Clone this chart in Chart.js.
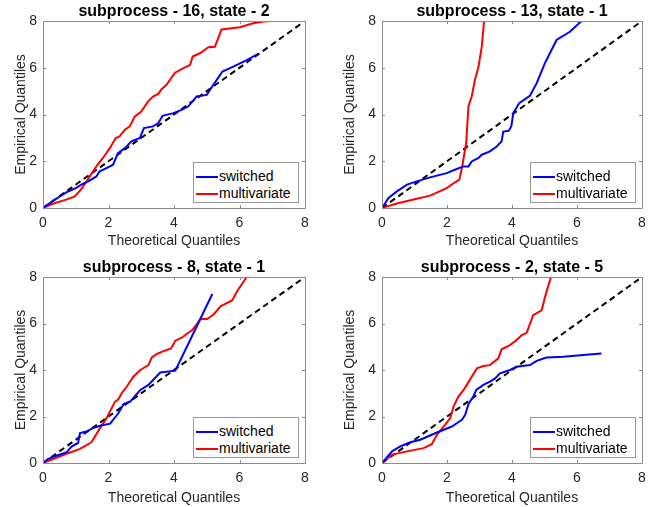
<!DOCTYPE html>
<html><head><meta charset="utf-8">
<script src="https://cdn.jsdelivr.net/npm/chart.js@4.4.1/dist/chart.umd.min.js"></script>
<style>
html,body{margin:0;padding:0;background:#fff;}
#wrap{position:relative;width:658px;height:507px;overflow:hidden;background:#fff;}
canvas{position:absolute;}
.lg{position:absolute;background:#fff;border:1px solid #9a9a9a;box-sizing:border-box;font-family:"Liberation Sans",Arial,sans-serif;font-size:14px;color:#000;}
.lg .sw{position:absolute;left:2px;width:22px;height:2px;}
.lg .tx{position:absolute;left:25px;line-height:16px;white-space:nowrap;}
</style></head><body>
<div id="wrap">
<canvas id="c1" width="329" height="250" style="left:0;top:0"></canvas>
<canvas id="c2" width="329" height="250" style="left:329px;top:0"></canvas>
<canvas id="c3" width="329" height="251" style="left:0;top:256px"></canvas>
<canvas id="c4" width="329" height="251" style="left:329px;top:256px"></canvas>
</div>
<script>
// ---- data ----
const titles = ['subprocess - 16, state - 2','subprocess - 13, state - 1','subprocess - 8, state - 1','subprocess - 2, state - 5'];
const seriesNames = ['switched','multivariate'];
const tickValues = [0,2,4,6,8];
const refX = [0,7.9];
const refY = [0,7.9];

const p1SwitchedX = [0,0.35,0.71,1.0,1.17,1.38,1.63,1.73,1.94,2.14,2.29,2.5,2.7,2.96,3.08,3.36,3.52,3.65,3.98,4.23,4.43,4.69,5.0,5.2,5.48,5.81,6.22,6.57];
const p1SwitchedY = [0,0.35,0.67,0.85,1.0,1.14,1.35,1.57,1.71,1.85,2.35,2.56,2.85,3.0,3.42,3.49,3.63,3.94,4.06,4.2,4.34,4.77,4.84,5.27,5.84,6.05,6.33,6.59];
const p1MultiX = [0,0.3,0.71,0.97,1.17,1.33,1.63,1.83,2.04,2.22,2.34,2.5,2.65,2.8,3.0,3.21,3.36,3.52,3.62,3.77,4.03,4.23,4.49,4.57,4.79,5.05,5.25,5.45,6.01,6.42,6.73,6.98];
const p1MultiY = [0,0.18,0.36,0.5,0.81,1.14,1.78,2.14,2.56,2.99,3.06,3.35,3.49,3.91,4.13,4.56,4.77,4.88,5.08,5.27,5.79,5.94,6.12,6.48,6.62,6.88,6.9,7.64,7.73,7.9,7.98,8.0];

const p2SwitchedX = [0,0.2,0.46,0.77,1.07,1.48,1.99,2.3,2.5,2.66,2.76,2.97,3.07,3.32,3.53,3.68,3.73,3.9,3.98,4.04,4.22,4.55,4.76,5.01,5.37,5.78,6.14];
const p2SwitchedY = [0,0.43,0.71,1.0,1.14,1.31,1.49,1.67,1.78,1.78,1.99,2.14,2.28,2.42,2.63,2.85,3.27,3.3,3.5,4.06,4.48,4.8,5.34,6.19,7.19,7.54,8.0];
const p2MultiX = [0,0.46,0.97,1.48,1.99,2.25,2.38,2.46,2.59,2.66,2.76,2.86,2.97,3.07,3.14];
const p2MultiY = [0,0.19,0.36,0.53,0.85,1.1,1.21,1.71,2.78,4.34,4.77,5.48,6.05,6.9,8.0];

const p3SwitchedX = [0,0.15,0.36,0.72,0.87,1.07,1.13,1.33,1.53,1.74,2.05,2.3,2.46,2.66,2.97,3.22,3.58,4.04,4.6,5.17];
const p3SwitchedY = [0,0.17,0.29,0.46,0.71,0.86,1.29,1.36,1.5,1.6,1.69,2.14,2.53,2.64,3.14,3.36,3.89,3.97,5.6,7.27];
const p3MultiX = [0,0.72,1.13,1.48,1.74,1.94,2.2,2.3,2.4,2.56,2.76,2.97,3.22,3.32,3.48,3.68,3.91,4.04,4.25,4.4,4.55,4.71,4.81,5.01,5.22,5.42,5.78,5.93,6.22];
const p3MultiY = [0,0.4,0.61,0.89,1.5,1.93,2.64,2.74,3.0,3.29,3.71,4.0,4.21,4.54,4.69,4.81,4.93,5.26,5.4,5.57,5.71,6.0,6.19,6.19,6.4,6.74,7.0,7.4,8.0];

const p4SwitchedX = [0,0.31,0.56,0.87,1.18,1.69,2.15,2.3,2.46,2.56,2.66,2.81,2.9,3.12,3.32,3.48,3.63,3.94,4.14,4.55,4.76,5.06,5.58,6.19,6.75];
const p4SwitchedY = [0,0.5,0.71,0.89,1.0,1.31,1.57,1.71,1.86,2.07,2.54,2.86,3.14,3.36,3.5,3.64,3.86,4.0,4.14,4.21,4.39,4.54,4.57,4.64,4.71];
const p4MultiX = [0,0.31,0.77,1.28,1.53,1.69,1.94,2.1,2.2,2.35,2.51,2.61,2.76,2.92,3.12,3.32,3.58,3.68,3.94,4.14,4.3,4.45,4.65,4.91,5.06,5.2];
const p4MultiY = [0,0.36,0.5,0.64,0.81,1.21,1.64,1.93,2.43,2.86,3.14,3.36,3.71,4.07,4.17,4.21,4.5,4.89,5.07,5.29,5.5,5.6,6.36,6.57,7.36,8.0];

// ---- build ----
const FONT = '"Liberation Sans", Arial, Helvetica, sans-serif';
const AXC = '#262626';
function pts(xs, ys){ return xs.map((x,i)=>({x:x,y:ys[i]})); }

const boxPlugin = {
  id:'matlabBox',
  afterDatasetsDraw(chart){
    const {ctx, chartArea:a, scales:{x, y}} = chart;
    ctx.save();
    ctx.strokeStyle = '#8c8c8c';
    ctx.lineWidth = 1;
    ctx.beginPath();
    ctx.rect(Math.round(a.left)+0.5, Math.round(a.top)+0.5, Math.round(a.right-a.left), Math.round(a.bottom-a.top));
    tickValues.forEach(v=>{
      const px = Math.round(x.getPixelForValue(v))+0.5;
      ctx.moveTo(px, a.bottom); ctx.lineTo(px, a.bottom-3);
      ctx.moveTo(px, a.top); ctx.lineTo(px, a.top+3);
      const py = Math.round(y.getPixelForValue(v))+0.5;
      ctx.moveTo(a.left, py); ctx.lineTo(a.left+3, py);
      ctx.moveTo(a.right, py); ctx.lineTo(a.right-3, py);
    });
    ctx.stroke();
    ctx.restore();
  }
};

// axes title centred over the plot box (text taken from the title option)
const axTitlePlugin = {
  id:'axTitle',
  afterDraw(chart){
    const t = chart.options.plugins.title;
    const a = chart.chartArea;
    const ctx = chart.ctx;
    ctx.save();
    ctx.font = 'bold 16px ' + FONT;
    ctx.fillStyle = '#000';
    ctx.textAlign = 'center';
    ctx.textBaseline = 'alphabetic';
    ctx.fillText(t.text, (a.left + a.right)/2, a.top - 5.5);
    ctx.restore();
  }
};

const panels = [
  {id:'c1', t:titles[0], sx:p1SwitchedX, sy:p1SwitchedY, mx:p1MultiX, my:p1MultiY, L:43, R:305, B:208, H:250, cx:0, cy:0},
  {id:'c2', t:titles[1], sx:p2SwitchedX, sy:p2SwitchedY, mx:p2MultiX, my:p2MultiY, L:53, R:313, B:208, H:250, cx:329, cy:0},
  {id:'c3', t:titles[2], sx:p3SwitchedX, sy:p3SwitchedY, mx:p3MultiX, my:p3MultiY, L:43, R:305, B:207, H:251, cx:0, cy:256},
  {id:'c4', t:titles[3], sx:p4SwitchedX, sy:p4SwitchedY, mx:p4MultiX, my:p4MultiY, L:53, R:313, B:207, H:251, cx:329, cy:256}
];

panels.forEach(p=>{
  const chart = new Chart(document.getElementById(p.id), {
    type:'line',
    data:{datasets:[
      {label:seriesNames[0], data:pts(p.sx,p.sy), borderColor:'#0000ff', borderWidth:2, pointRadius:0, tension:0, fill:false},
      {label:seriesNames[1], data:pts(p.mx,p.my), borderColor:'#ff0000', borderWidth:2, pointRadius:0, tension:0, fill:false},
      {label:'reference', data:pts(refX,refY), borderColor:'#000000', borderWidth:2, borderDash:[6,4], pointRadius:0, tension:0, fill:false}
    ]},
    options:{
      responsive:false, animation:false, events:[],
      layout:{padding:{left:0, top:21, bottom:0, right:329-p.R}},
      plugins:{
        legend:{display:false}, tooltip:{enabled:false},
        title:{display:false, text:p.t}
      },
      scales:{
        x:{type:'linear', min:0, max:8,
          afterBuildTicks(s){ s.ticks = tickValues.map(v=>({value:v})); },
          afterFit(s){ s.height = p.H - p.B; },
          grid:{display:false, drawTicks:false}, border:{display:false},
          ticks:{color:AXC, font:{family:FONT, size:14}, padding:7, maxRotation:0},
          title:{display:true, text:'Theoretical Quantiles', color:AXC, font:{family:FONT, size:14}, padding:{top:1.5, bottom:0}}
        },
        y:{type:'linear', min:0, max:8,
          afterBuildTicks(s){ s.ticks = tickValues.map(v=>({value:v})); },
          afterFit(s){ s.width = p.L; },
          grid:{display:false, drawTicks:false}, border:{display:false},
          ticks:{color:AXC, font:{family:FONT, size:14}, padding:6},
          title:{display:true, text:'Empirical Quantiles', color:AXC, font:{family:FONT, size:14}, padding:{top:13, bottom:0}}
        }
      }
    },
    plugins:[boxPlugin, axTitlePlugin]
  });
  // legend (southeast, inside axes)
  const a = chart.chartArea;
  const lg = document.createElement('div');
  lg.className = 'lg';
  const w = 106, h = 41;
  lg.style.left = (p.cx + a.right - 6 - w) + 'px';
  lg.style.top = (p.cy + a.bottom - 5 - h) + 'px';
  lg.style.width = w + 'px'; lg.style.height = h + 'px';
  chart.data.datasets.slice(0,2).forEach((ds,i)=>{
    const cy = 14 + i*17;
    const sw = document.createElement('div'); sw.className='sw'; sw.style.top=(cy-1)+'px'; sw.style.background=ds.borderColor;
    const tx = document.createElement('div'); tx.className='tx'; tx.style.top=(cy-9)+'px'; tx.textContent = ds.label;
    lg.appendChild(sw); lg.appendChild(tx);
  });
  document.getElementById('wrap').appendChild(lg);
});
</script>
</body></html>
